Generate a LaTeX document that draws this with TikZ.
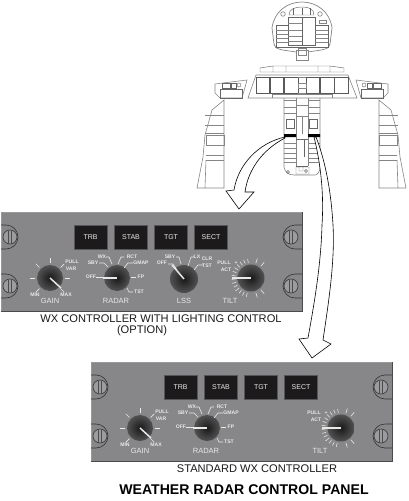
\documentclass[tikz,border=0pt]{standalone}
\usepackage{fontspec}
\setmainfont{Liberation Sans}
\definecolor{paneldark}{HTML}{4A4A4C}
\definecolor{panelgray}{HTML}{87878A}
\definecolor{screwgray}{HTML}{9C9C9E}
\definecolor{btnblack}{HTML}{1D1A1B}
\definecolor{btnedge}{HTML}{56565A}
\definecolor{linegray}{HTML}{858585}
\definecolor{labelwhite}{HTML}{E8E8E8}
\tikzset{
  tinylabel/.style={text=labelwhite, font=\fontsize{5.1}{6}\selectfont\bfseries, inner sep=0pt},
  knoblabel/.style={text=labelwhite, font=\fontsize{7.5}{9}\selectfont, inner sep=0pt},
  btn/.style={draw=btnedge, fill=btnblack, line width=0.8pt, minimum width=33pt, minimum height=24pt,
    text=labelwhite, font=\fontsize{7}{8}\selectfont, inner sep=0pt},
  knob/.style={inner color=black!90!white, outer color=black!68!white},
  tickline/.style={labelwhite, line width=0.7pt},
  thinline/.style={line width=0.45pt},
  grayline/.style={linegray, line width=0.6pt},
  caption/.style={font=\fontsize{11.1}{12}\selectfont, inner sep=0pt, text=black!90},
}
% one knob, drawn around the origin of a shifted scope
\newcommand{\wxknob}[4]{%
  \shade[knob] (#1,#2) circle (#3pt);
  \draw[labelwhite, line width=1.5pt] (#1,#2) -- #4;
}
\newcommand{\wxscrew}[2]{%
  \fill[screwgray] (#1,#2) circle (7pt);
  \draw[black!75, line width=0.7pt] (#1,#2) circle (7pt);
  \draw[black!70, line width=0.6pt] (#1-1.5,#2-6.5) -- (#1-1.5,#2+6.5) (#1+1.5,#2-6.5) -- (#1+1.5,#2+6.5);
}
% the part both controllers share
\newcommand{\wxpanel}[3]{%
  \begin{scope}[shift={(#2,#3)}]
    \fill[panelgray] (1,212) rectangle (302,311);
    \draw[black!40, line width=0.8pt] (1,311) -- (1,212) -- (302,212);
    \draw[paneldark, line width=1pt] (302,212) -- (302,311) -- (1,311);
    % screws
    \foreach \sy in {237,286} {
      \draw[black!80, line width=0.6pt] (1,\sy-12) -- (6,\sy-12) arc[start angle=90, end angle=-90, radius=12pt] -- (1,\sy+12);
      \wxscrew{10}{\sy}
      \draw[black!80, line width=0.6pt] (302,\sy-12) -- (295,\sy-12) arc[start angle=90, end angle=270, radius=12pt] -- (302,\sy+12);
      \wxscrew{291}{\sy}
    }
    % mode buttons
    \node[btn] (#1trb) at (90.5,237) {TRB};
    \node[btn] (#1stab) at (131,237) {STAB};
    \node[btn] (#1tgt) at (171,237) {TGT};
    \node[btn] (#1sect) at (211,237) {SECT};
    % gain
    \wxknob{50}{278}{13}{(61,288)}
    \foreach \ta in {0,45,90,135,180,225,315} {
      \draw[tickline] (50,278) ++(\ta:15pt) -- ++(\ta:5pt);
    }
    \node[tinylabel] (#1pull) at (72,262) {PULL};
    \node[tinylabel] (#1var) at (71,269) {VAR};
    \node[tinylabel] (#1min) at (35,295) {MIN};
    \node[tinylabel] (#1max) at (66,295) {MAX};
    \node[knoblabel] (#1gain) at (50,301) {GAIN};
    % radar
    \wxknob{117}{278}{13}{(103,278)}
    \draw[tickline] (96,277) -- (104,277);
    \draw[tickline, line width=0.6pt] (99,263) -- (104,263) -- (108,267);
    \draw[tickline, line width=0.6pt] (106,257) -- (109,257) -- (112,264);
    \draw[tickline, line width=0.6pt] (124,257) -- (121,257) -- (118,264);
    \draw[tickline, line width=0.6pt] (133,263) -- (128,263) -- (124,268);
    \draw[tickline] (131,277) -- (136,277);
    \draw[tickline, line width=0.6pt] (127,288) -- (129,292) -- (133,292);
    \node[tinylabel] (#1sby) at (93,263) {SBY};
    \node[tinylabel] (#1wx) at (102,257) {WX};
    \node[tinylabel] (#1rct) at (132,257) {RCT};
    \node[tinylabel] (#1gmap) at (141,263) {GMAP};
    \node[tinylabel] (#1off) at (91,277) {OFF};
    \node[tinylabel] (#1fp) at (141,277) {FP};
    \node[tinylabel] (#1tst) at (139,292) {TST};
    \node[knoblabel] (#1radar) at (116,301) {RADAR};
    % tilt
    \wxknob{251}{278}{13.5}{(232,278)}
    \foreach \ta in {100,112,...,260} {
      \draw[tickline, line width=0.55pt] (251,278) ++(\ta:15.5pt) -- ++(\ta:4pt);
    }
    \foreach \ta in {-72,-50,50,72} {
      \draw[tickline, line width=0.6pt] (251,278) ++(\ta:15.5pt) -- ++(\ta:5pt);
    }
    \node[tinylabel] (#1tpull) at (224,263) {PULL};
    \node[tinylabel] (#1act) at (226,270) {ACT};
    \node[tinylabel] (#1plus) at (236,263) {+};
    \node[tinylabel] (#1minus) at (236,292) {-};
    \node[knoblabel] (#1tilt) at (230,301) {TILT};
  \end{scope}
}
% side wall, drawn for the captain's side and mirrored for the other
\newcommand{\sidewall}{%
  \draw[grayline] (197,188) -- (203,157) -- (205,135) -- (212,110) -- (224,100) -- (224,188) -- cycle;
  \draw[grayline] (205,115) -- (224,115) (205,125) -- (224,125) (205,133) -- (224,133) (206,145) -- (224,145) (206,155) -- (224,155) (206,160) -- (224,160);
  \draw[grayline] (206,135) rectangle (224,145);
  \draw[grayline] (206,160) -- (205,188);
  \draw[grayline] (215,84) -- (247,80) -- (242,98) -- (220,98) -- (215,93) -- cycle;
  \draw[thinline, black!60] (220,89) rectangle (242,98);
  \draw[thinline, black!60] (222,83) rectangle (230,88) (231,83) rectangle (236,88);
  \draw[thinline, black!60] (239,85) circle (2pt);
}
\begin{document}
\begin{tikzpicture}[x=1pt, y=-1pt]
  \useasboundingbox (0,0) rectangle (408,501);
  % overhead panel
  \draw[grayline, line width=0.7pt] (296,52) .. controls (284,50) and (274,50) .. (274,44) -- (272,28)
    .. controls (274,12) and (287,2) .. (302,2) .. controls (317,2) and (330,12) .. (332,28)
    -- (330,44) .. controls (330,50) and (320,50) .. (308,52);
  \draw[grayline] (296,50) rectangle (308,60) (298,48) rectangle (306,55);
  \draw[thinline, black!60] (289,15) .. controls (289,9) and (295,7) .. (302,7) .. controls (309,7) and (314,9) .. (314,15) -- cycle;
  \draw[thinline, black!60] (283,14) circle (2.3pt) (320,14) circle (2.3pt);
  \draw[thinline, black!60] (293,8) -- (293,15) (302,8) -- (302,15) (310,8) -- (310,15);
  \draw[thinline, black!60] (276,25) rectangle (328,47);
  \draw[thinline, black!60, fill=white] (288,17) rectangle (315,45);
  \draw[line width=0.7pt, black!60] (302,17) -- (302,45);
  \draw[grayline] (319,20) rectangle (326,23);
  \foreach \oy in {30,34,38,42} {
    \draw[grayline] (276,\oy) -- (288,\oy) (315,\oy) -- (328,\oy);
  }
  \foreach \oy in {23,30,36,41} {
    \draw[grayline] (288,\oy) -- (302,\oy);
  }
  % glareshield and main panel
  \draw[thinline, black!60] (260,72) -- (260,68) -- (273,66) -- (330,66) -- (344,68) -- (344,72) -- cycle (273,66) -- (273,72) (286,66) -- (286,72) (318,66) -- (318,72) (330,66) -- (330,72);
  \draw[grayline] (256,75) -- (348,75) -- (357,98) -- (248,98) -- cycle;
  \foreach \sl/\sr in {256/269,270/283,284/298,306/319,320/334,334/348} {
    \draw[thinline, black!65] (\sl,77) rectangle (\sr,93);
  }
  \draw[grayline] (298,83) rectangle (306,88) (298,77) -- (306,77) (298,93) -- (306,93);
  \draw[grayline] (272,94) -- (272,98) (332,94) -- (332,98) (272,94) -- (332,94);
  % pedestal
  \draw[grayline] (284,98) -- (284,167) .. controls (285,172) and (288,175) .. (294,175) -- (315,175) .. controls (317,175) and (320,172) .. (320,167) -- (320,98);
  \draw[grayline] (296,98) -- (296,166) (308,98) -- (308,166) (302,116) -- (302,134);
  \foreach \py in {100,107,113,143,148,153,158,162} {
    \draw[grayline] (284,\py) -- (296,\py) (308,\py) -- (320,\py);
  }
  \draw[grayline] (296,105) -- (308,105) (296,116) -- (308,116);
  \draw[thinline, black!60] (286,119) rectangle (294,128) (309,119) rectangle (317,128);
  \fill[black] (284,134) rectangle (296,137) (308,134) rectangle (320,137);
  \draw[thinline, black!60] (296,139) -- (308,139) (304,140) -- (304,157) (296,166) -- (308,166);
  \draw[thinline, black!60] (296,167) rectangle (309,174) (299,167) rectangle (303,171) (306,171) circle (1.5pt);
  \draw[thinline, black!60] (288,172) circle (1.5pt);
  % side walls
  \sidewall
  \begin{scope}[xscale=-1, xshift=-603pt]
    \sidewall
  \end{scope}
  % both panels
  \wxpanel{a}{0}{0}
  \wxpanel{b}{90}{150}
  % lighting knob, first panel only
  \wxknob{184}{279}{14}{(172,265)}
  \draw[tickline, line width=0.6pt] (176,257) -- (179,257) -- (181,264);
  \draw[tickline, line width=0.6pt] (168,264) -- (173,264) -- (177,270);
  \draw[tickline, line width=0.6pt] (194,257) -- (191,257) -- (188,266);
  \draw[tickline, line width=0.6pt] (203,265) -- (198,265) -- (194,270);
  \node[tinylabel] (lsby) at (170,257) {SBY};
  \node[tinylabel] (loff) at (162,263) {OFF};
  \node[tinylabel] (llx) at (197,257) {LX};
  \node[tinylabel] (lclr) at (207,259) {CLR};
  \node[tinylabel] (ltst) at (207,266) {TST};
  \node[knoblabel] (lss) at (184,301) {LSS};
  % hollow arrows
  \draw[fill=white, line width=0.6pt] (285,137) .. controls (258,143) and (238,165) .. (234,190) -- (226,191) -- (239,209) -- (254,192) -- (245,192)
    .. controls (248,170) and (262,150) .. (285,138) -- cycle;
  \draw[fill=white, line width=0.6pt] (314,137) .. controls (321,165) and (324,195) .. (322,225) .. controls (321,265) and (314,305) .. (308,338)
    -- (299,339) -- (312,358) -- (331,344) -- (323,340) .. controls (329,300) and (335,260) .. (333,225) .. controls (331,190) and (325,160) .. (316,137) -- cycle;
  % captions
  \node[caption] (cap1) at (161,319) {WX CONTROLLER WITH LIGHTING CONTROL};
  \node[caption] (cap2) at (142,331) {(OPTION)};
  \node[caption] (cap3) at (257,469) {STANDARD WX CONTROLLER};
  \node[font=\fontsize{14.1}{16}\selectfont\bfseries, inner sep=0pt] (title) at (244,490) {WEATHER RADAR CONTROL PANEL};
\end{tikzpicture}
\end{document}
